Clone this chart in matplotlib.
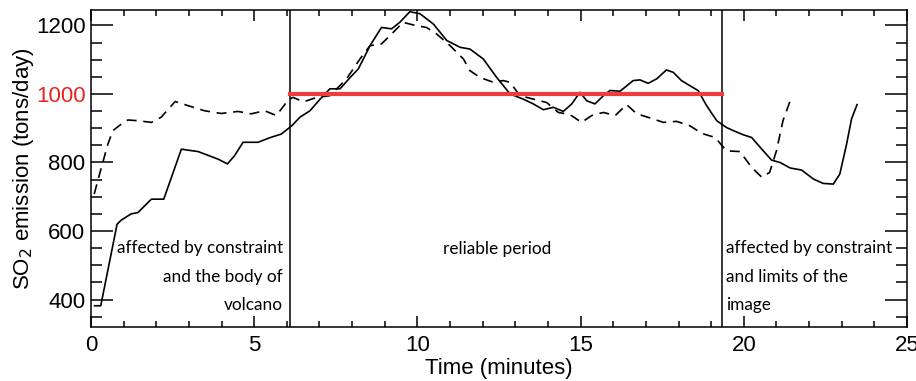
import numpy as np
import matplotlib
matplotlib.use('Agg')
import matplotlib.pyplot as plt
from matplotlib import font_manager
from matplotlib.ticker import MultipleLocator

# data
# ------------------------

t_solid = [0.11, 0.30, 0.80, 0.93, 1.23, 1.44, 1.85, 2.23, 2.77, 2.97, 3.28, 3.89, 4.18, 4.40,
           4.66, 4.91, 5.12, 5.47, 5.83, 6.15, 6.40, 6.71, 7.02, 7.32, 7.63, 7.94, 8.19, 8.55,
           8.90, 9.21, 9.46, 9.77, 10.08, 10.49, 10.90, 11.31, 11.61, 12.02, 12.43, 12.84,
           13.24, 13.55, 13.86, 14.17, 14.47, 14.73, 14.98, 15.19, 15.44, 15.70, 15.90, 16.21,
           16.61, 16.82, 17.07, 17.33, 17.63, 17.84, 18.09, 18.35, 18.60, 18.86, 19.17, 19.47,
           19.68, 19.98, 20.24, 20.55, 20.85, 21.11, 21.42, 21.77, 22.13, 22.43, 22.74, 22.94,
           23.15, 23.30, 23.47]
so2_solid = [382, 382, 620, 632, 650, 654, 693, 693, 839, 836, 832, 810, 796, 820,
             859, 859, 859, 872, 883, 907, 932, 951, 985, 1015, 1015, 1048, 1073, 1141,
             1194, 1190, 1209, 1240, 1234, 1204, 1156, 1136, 1131, 1102, 1048, 1000,
             985, 971, 954, 961, 949, 971, 1005, 980, 971, 995, 1010, 1008,
             1039, 1041, 1031, 1044, 1070, 1063, 1039, 1024, 1010, 966, 922, 902,
             893, 881, 873, 839, 807, 800, 784, 778, 752, 739, 737, 766,
             854, 927, 969]

t_dash = [0.10, 0.32, 0.52, 0.67, 0.93, 1.13, 1.44, 1.85, 2.15, 2.58, 2.97, 3.48, 3.99, 4.50,
          4.91, 5.32, 5.68, 6.04, 6.19, 6.51, 6.92, 7.32, 7.83, 8.24, 8.55, 8.90, 9.21, 9.56,
          9.93, 10.28, 10.59, 11.00, 11.41, 11.61, 11.92, 12.33, 12.63, 12.84, 13.14, 13.55,
          13.96, 14.32, 14.67, 15.03, 15.34, 15.70, 16.06, 16.41, 16.72, 17.13, 17.54, 17.94,
          18.35, 18.71, 19.12, 19.47, 19.88, 20.24, 20.55, 20.79, 21.00, 21.20, 21.42]
so2_dash = [708, 786, 854, 893, 912, 924, 922, 917, 932, 978, 966, 951, 943, 949,
            942, 951, 937, 982, 990, 977, 990, 995, 1044, 1102, 1141, 1146, 1175, 1209,
            1200, 1194, 1175, 1141, 1102, 1068, 1048, 1034, 1039, 1034, 995, 985,
            975, 946, 940, 917, 937, 946, 937, 969, 942, 930, 917, 920,
            907, 885, 873, 834, 832, 786, 757, 771, 834, 922, 980]

t_start, t_end = 6.1, 19.33
reference_level = 1000

# fonts (narrow face for the tick labels if it exists)
# ----------------------------------------------------

installed = {f.name for f in font_manager.fontManager.ttflist}
if 'Liberation Sans Narrow' in installed:
    tick_font, tick_size = 'Liberation Sans Narrow', 18
else:
    tick_font, tick_size = 'Liberation Sans', 16

# plot
# ----

fig = plt.figure(figsize=(9.16, 3.81), dpi=100)
ax = fig.add_axes([0.0993, 0.1417, 0.8909, 0.8321])

ax.plot(t_solid, so2_solid, color='black', lw=1.2)
ax.plot(t_dash, so2_dash, color='black', lw=1.2, ls=(0, (6, 4)))
ax.axvline(t_start, color='black', lw=1.1)
ax.axvline(t_end, color='black', lw=1.1)
ax.plot([t_start, t_end], [reference_level, reference_level], color='#f03c3c', lw=3)

ax.set_xlim(0, 25)
ax.set_ylim(320, 1245)
ax.xaxis.set_major_locator(MultipleLocator(5))
ax.xaxis.set_minor_locator(MultipleLocator(1))
ax.yaxis.set_major_locator(MultipleLocator(200))
ax.yaxis.set_minor_locator(MultipleLocator(50))
ax.set_yticks([400, 600, 800, 1000, 1200])

ax.tick_params(axis='both', which='both', direction='in', top=True, right=True, width=1.1)
ax.tick_params(axis='y', which='major', length=16, pad=4)
ax.tick_params(axis='y', which='minor', length=8)
ax.tick_params(axis='x', which='major', length=8, pad=6)
ax.tick_params(axis='x', which='minor', length=4)
for lab in ax.get_xticklabels() + ax.get_yticklabels():
    lab.set_fontfamily(tick_font)
    lab.set_fontsize(tick_size)
for lab in ax.get_yticklabels():
    if lab.get_text() == '1000':
        lab.set_color('#e8231f')
for s in ax.spines.values():
    s.set_linewidth(1.1)

ax.set_xlabel('Time (minutes)', family='Liberation Sans', fontsize=16, labelpad=1)
ax.set_ylabel(r'SO$_2$ emission (tons/day)', family='Liberation Sans', fontsize=16, labelpad=0)

note_font = dict(family='Lato', fontsize=12.4, linespacing=1.95)
ax.text(5.88, 467, 'affected by constraint\nand the body of\nvolcano', ha='right', va='center',
        multialignment='right', **note_font)
ax.text(12.44, 548, 'reliable period', ha='center', va='center', **note_font)
ax.text(19.45, 467, 'affected by constraint\nand limits of the\nimage', ha='left', va='center',
        multialignment='left', **note_font)

fig.savefig('out.png', dpi=100)
